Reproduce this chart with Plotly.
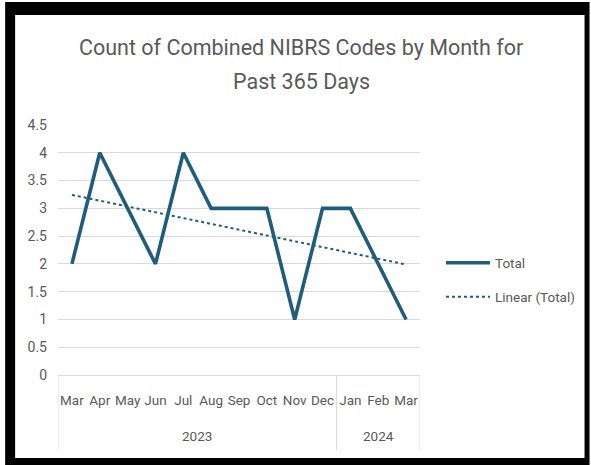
import numpy as np
import plotly.graph_objects as go

# ---- data ----
months = ["Mar", "Apr", "May", "Jun", "Jul", "Aug", "Sep", "Oct", "Nov", "Dec", "Jan", "Feb", "Mar"]
years = ["2023"] * 10 + ["2024"] * 3
totals = [2, 4, 3, 2, 4, 3, 3, 3, 1, 3, 3, 2, 1]
title_lines = ["Count of Combined NIBRS Codes by Month for", "Past 365 Days"]
y_tick_vals = [0, 0.5, 1, 1.5, 2, 2.5, 3, 3.5, 4, 4.5]
y_tick_text = ["0", "0.5", "1", "1.5", "2", "2.5", "3", "3.5", "4", "4.5"]
series_name = "Total"
trend_name = "Linear (Total)"

# linear trendline (least squares fit of the series, as Excel does)
idx = list(range(len(totals)))
slope, intercept = np.polyfit(idx, totals, 1)
trend = [intercept + slope * i for i in idx]

# ---- styling ----
W, H = 591, 465
L, R, T, B = 58, 421, 125, 375  # plot area in pixels
FONT = "Roboto, Arial, sans-serif"
GRAY = "#595959"
LINE = "#1f5d7c"
GRID = "#d9d9d9"


def px(x):
    return (x - L) / (R - L)


def py(y):
    return (B - y) / (B - T)


fig = go.Figure()
fig.add_trace(go.Scatter(
    x=idx, y=totals, mode="lines", name=series_name,
    line=dict(color=LINE, width=3.6), legend="legend",
))
fig.add_trace(go.Scatter(
    x=idx, y=trend, mode="lines", name=trend_name,
    line=dict(color=LINE, width=2, dash="dot"), legend="legend2",
))

shapes = [
    dict(type="rect", xref="paper", yref="paper", layer="below",
         x0=px(5), x1=px(591), y0=py(465), y1=py(2),
         fillcolor="black", line=dict(width=0)),
    dict(type="rect", xref="paper", yref="paper", layer="below",
         x0=px(15), x1=px(586), y0=py(458), y1=py(15),
         fillcolor="white", line=dict(width=0)),
]

# year-group dividers of the two-level category axis
group_edges = [-0.5]
for i in range(1, len(years)):
    if years[i] != years[i - 1]:
        group_edges.append(i - 0.5)
group_edges.append(len(years) - 0.5)
for e in group_edges:
    shapes.append(dict(type="line", xref="x", yref="paper", x0=e, x1=e,
                       y0=0, y1=py(450), line=dict(color=GRID, width=1)))

annotations = [
    dict(text=title_lines[0], xref="paper", yref="paper", x=px(302), y=py(48),
         xanchor="center", yanchor="middle", showarrow=False,
         font=dict(family=FONT, size=21.5, color=GRAY)),
    dict(text=title_lines[1], xref="paper", yref="paper", x=px(302), y=py(81),
         xanchor="center", yanchor="middle", showarrow=False,
         font=dict(family=FONT, size=21.5, color=GRAY)),
]
# year labels centred under their month groups
for a, b in zip(group_edges[:-1], group_edges[1:]):
    yr = years[int(a + 0.5)]
    annotations.append(dict(text=yr, xref="x", yref="paper", x=(a + b) / 2, y=py(436),
                            xanchor="center", yanchor="middle", showarrow=False,
                            font=dict(family=FONT, size=13.5, color=GRAY)))

legend_style = dict(xanchor="left", yanchor="middle", bgcolor="rgba(0,0,0,0)",
                    borderwidth=0, font=dict(family=FONT, size=13.5, color=GRAY),
                    itemwidth=44)
fig.update_layout(
    width=W, height=H, autosize=False,
    margin=dict(l=L, r=W - R, t=T, b=H - B, pad=0),
    paper_bgcolor="white", plot_bgcolor="rgba(0,0,0,0)",
    font=dict(family=FONT, color=GRAY, size=13),
    shapes=shapes, annotations=annotations,
    legend=dict(x=px(441), y=py(263), **legend_style),
    legend2=dict(x=px(441), y=py(297), **legend_style),
    showlegend=True,
)

fig.update_yaxes(
    range=[0, 4.5], tickvals=y_tick_vals, ticktext=y_tick_text,
    showgrid=True, gridcolor=GRID, gridwidth=1, zeroline=False,
    showline=False, ticks="", ticklabelstandoff=10,
    tickfont=dict(family=FONT, size=14, color=GRAY),
)
fig.update_xaxes(
    range=[-0.5, len(months) - 0.5], tickvals=idx, ticktext=months, tickangle=0,
    showgrid=False, zeroline=False, showline=True, linecolor=GRID, linewidth=1,
    ticks="", ticklabelstandoff=13,
    tickfont=dict(family=FONT, size=13.5, color=GRAY),
)

fig.write_html("out.html", config={"displayModeBar": False},
               post_script="document.body.style.margin='0';")
